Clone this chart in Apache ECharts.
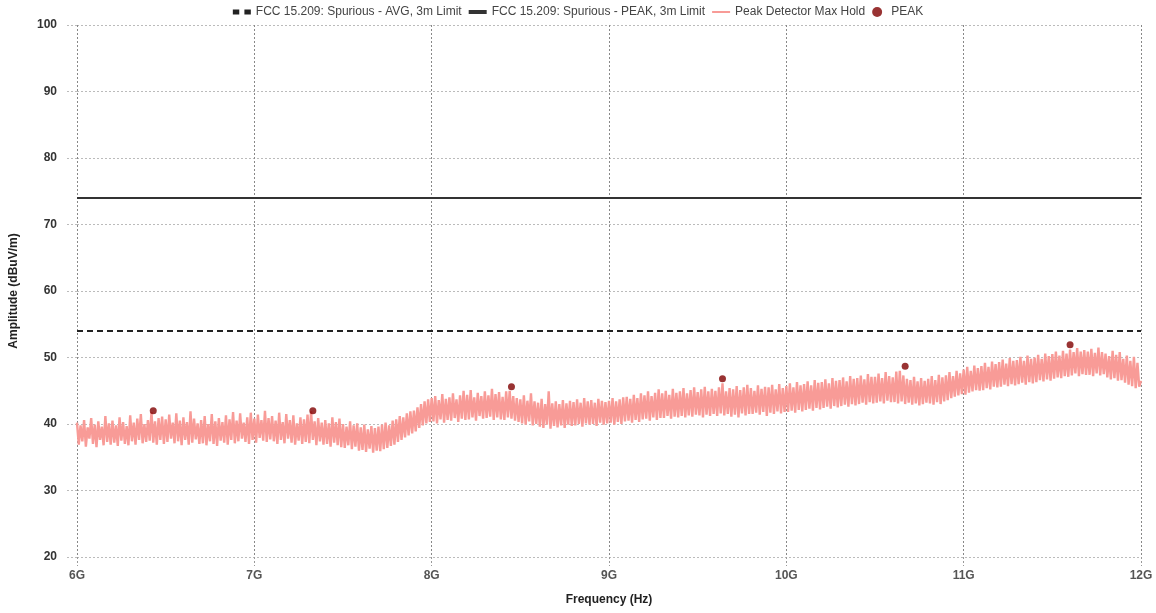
<!DOCTYPE html>
<html><head><meta charset="utf-8">
<script src="https://cdn.jsdelivr.net/npm/echarts@6/dist/echarts.min.js"></script>
<style>html,body{margin:0;padding:0;background:#fff}#c{width:1156px;height:613px}</style>
</head><body><div id="c"></div>
<script>
// Frequency axis in GHz
const X_TICKS = [6, 7, 8, 9, 10, 11, 12];
const Y_TICKS = [20, 30, 40, 50, 60, 70, 80, 90, 100];
const LIMIT_FREQS = [6, 12];
const AVG_LIMIT = [54, 54];
const PEAK_LIMIT = [74, 74];
// Peak detector max hold trace, sampled every 0.01 GHz from 6.00 GHz
const TRACE_START = 6.0;
const TRACE_STEP = 0.01;
const TRACE = [
40.2,36.9,39.8,37.4,40.6,36.6,39.5,37.8,40.9,37.0,
39.9,36.5,40.4,37.6,39.6,36.8,41.2,37.3,40.1,36.9,
40.5,37.2,39.8,36.7,41.0,37.5,40.3,37.0,39.7,36.8,
41.3,37.4,40.2,36.9,40.8,37.6,41.5,37.1,40.0,37.3,
40.6,37.5,41.8,37.2,40.4,36.9,40.9,37.6,41.1,37.0,
40.7,37.3,41.4,37.8,40.2,37.1,41.6,37.4,40.5,36.8,
41.0,37.6,40.3,36.9,41.9,37.2,40.8,37.7,40.1,37.0,
40.6,37.1,41.2,36.8,40.0,37.4,41.5,37.0,40.4,36.7,
40.9,37.5,40.3,37.2,41.3,36.9,40.7,37.6,41.8,37.1,
40.5,37.4,41.6,37.8,40.2,37.3,41.0,37.0,41.7,37.6,
40.8,37.2,41.4,37.9,40.6,37.5,42.0,37.3,40.9,37.7,
41.2,37.4,40.5,37.0,41.7,37.6,40.3,37.1,41.5,37.8,
40.6,37.2,41.3,36.9,40.1,37.5,41.0,37.0,40.7,37.3,
41.4,37.1,41.9,37.6,40.4,36.8,40.9,37.4,40.2,36.9,
40.6,37.0,40.1,36.6,41.0,37.2,40.3,36.8,40.8,36.5,
40.0,36.4,39.6,36.8,40.4,36.2,39.8,36.6,40.1,36.0,
39.5,36.1,39.9,35.8,39.2,36.3,39.7,35.7,39.4,36.0,
39.6,35.9,39.9,36.2,40.2,36.4,39.8,36.7,40.5,36.9,
40.7,37.3,41.2,37.6,41.0,38.0,41.6,38.3,41.9,38.6,
42.0,38.9,42.5,39.4,43.0,39.8,43.4,40.1,43.7,40.3,
43.9,40.4,44.2,40.1,43.6,40.7,44.5,40.2,43.8,40.6,
44.0,40.5,44.6,40.9,43.7,40.3,44.3,40.8,45.0,40.6,
44.4,40.7,45.1,41.0,44.0,40.5,44.7,41.2,44.2,40.8,
44.9,40.9,44.3,41.1,45.3,40.6,44.5,41.0,44.8,40.7,
44.1,40.6,44.9,41.0,45.0,40.8,44.2,40.5,43.9,40.3,
43.7,40.1,44.3,39.9,43.5,40.4,44.6,39.8,43.4,40.0,
43.2,39.6,43.8,39.4,43.0,39.9,44.9,39.3,43.1,39.7,
43.4,39.5,43.0,39.8,43.6,39.4,43.1,39.9,43.5,39.7,
43.3,39.8,43.7,40.0,43.2,39.6,43.9,40.1,43.4,39.9,
43.6,40.0,43.2,39.7,43.8,40.2,43.5,39.9,43.3,40.1,
43.5,40.2,43.9,39.9,43.4,40.3,43.7,40.0,44.0,40.4,
44.1,40.5,43.8,40.2,44.4,40.6,43.9,40.3,44.6,40.7,
44.3,40.8,44.9,40.5,44.2,41.0,44.7,40.6,45.2,40.9,
44.6,40.9,45.0,41.2,44.4,40.8,45.3,41.1,44.7,41.0,
44.9,41.2,45.4,41.0,44.6,41.3,45.1,41.1,45.5,41.4,
44.8,41.3,45.2,41.0,45.6,41.4,44.9,41.2,45.3,41.5,
45.0,41.2,45.5,41.6,46.1,41.3,44.9,41.5,45.4,41.1,
45.2,41.4,45.7,41.0,45.1,41.6,45.5,41.3,45.9,41.5,
45.4,41.5,45.0,41.7,45.8,41.4,45.3,41.8,45.6,41.2,
45.5,41.7,45.9,41.5,45.2,41.9,46.0,41.6,45.4,41.8,
45.7,41.8,46.1,42.0,45.5,41.7,46.3,42.1,45.8,41.9,
46.0,42.1,46.4,42.3,45.8,42.0,46.6,42.4,46.2,42.2,
46.3,42.4,46.7,42.6,46.1,42.3,46.9,42.7,46.5,42.5,
46.6,42.7,47.0,42.9,46.4,42.6,47.2,43.0,46.8,42.8,
46.9,43.0,47.3,43.2,46.7,42.9,47.5,43.3,47.1,43.1,
47.1,43.2,47.6,43.4,46.9,43.1,47.8,43.5,47.2,43.3,
47.0,43.3,47.9,43.1,48.0,43.4,47.3,43.0,46.8,43.2,
46.6,42.9,47.1,43.1,46.4,42.8,46.9,43.0,46.5,43.2,
46.8,43.1,47.2,42.9,46.6,43.3,47.4,43.0,47.0,43.4,
47.3,43.6,47.8,43.9,47.2,44.1,48.0,44.3,47.6,44.5,
48.2,44.4,48.6,44.7,48.0,44.9,48.8,45.1,48.4,45.0,
48.7,45.1,49.2,45.4,48.6,45.2,49.4,45.6,49.0,45.5,
49.3,45.6,49.7,45.9,49.1,45.7,49.9,46.0,49.5,45.8,
49.6,46.0,50.1,46.2,49.5,45.9,50.3,46.3,49.8,46.1,
50.0,46.3,50.4,46.6,49.8,46.4,50.6,46.7,50.2,46.5,
50.5,46.8,50.9,47.0,50.3,46.9,51.0,47.2,50.6,47.1,
51.2,47.3,50.8,47.6,51.4,47.2,50.9,47.5,51.1,47.4,
50.9,47.4,51.3,47.2,50.7,47.6,51.5,47.3,50.8,47.5,
50.6,47.0,50.2,46.7,51.0,46.9,50.4,46.5,50.8,46.6,
49.8,46.2,50.3,45.9,49.5,45.7,50.1,45.4,49.2,45.6,
46.5
];
const PEAK_FREQS = [6.43, 7.33, 8.45, 9.64, 10.67, 11.60];
const PEAK_VALUES = [42.0, 42.0, 45.6, 46.8, 48.7, 51.9];

const traceData = TRACE.map((v, i) => [+(TRACE_START + i * TRACE_STEP).toFixed(2), v]);
const chart = echarts.init(document.getElementById('c'), null, {renderer: 'canvas'});
const FONT = 'Liberation Sans, Arial, sans-serif';
const PINK = '#f89b97';
chart.setOption({
  animation: false,
  backgroundColor: '#fff',
  textStyle: {fontFamily: FONT},
  legend: {
    top: 1, left: 'center', itemWidth: 18, itemHeight: 10, itemGap: 7,
    textStyle: {fontSize: 12, color: '#444', fontFamily: FONT},
    data: [
      {name: 'FCC 15.209: Spurious - AVG, 3m Limit', icon: 'path://M0,0h5v4h-5zM9,0h5v4h-5z'},
      {name: 'FCC 15.209: Spurious - PEAK, 3m Limit', icon: 'path://M0,0h18v4h-18z'},
      {name: 'Peak Detector Max Hold', icon: 'path://M0,0h18v2h-18z'},
      {name: 'PEAK', icon: 'circle'}
    ]
  },
  grid: {left: 72, right: 15, top: 25, bottom: 56},
  xAxis: {
    type: 'value', min: 6, max: 12, interval: 1,
    name: 'Frequency (Hz)', nameLocation: 'middle', nameGap: 37,
    nameTextStyle: {fontWeight: 'bold', fontSize: 12, color: '#222'},
    axisLine: {show: false},
    axisTick: {show: true, length: 9, lineStyle: {type: [2, 2], color: '#999'}},
    axisLabel: {formatter: v => v + 'G', fontWeight: 'bold', fontSize: 12, color: '#555', margin: 13},
    splitLine: {show: true, lineStyle: {type: [2, 2], color: '#888', width: 1}}
  },
  yAxis: {
    type: 'value', min: 20, max: 100, interval: 10,
    name: 'Amplitude (dBuV/m)', nameLocation: 'middle', nameGap: 57, nameRotate: 90,
    nameTextStyle: {fontWeight: 'bold', fontSize: 12, color: '#222'},
    axisLine: {show: false},
    axisTick: {show: true, length: 10, lineStyle: {type: [2, 2], color: '#bbb'}},
    axisLabel: {fontWeight: 'bold', fontSize: 12, color: '#333', margin: 20},
    splitLine: {show: true, lineStyle: {type: [2, 2], color: '#bbb', width: 1}}
  },
  series: [
    {
      name: 'FCC 15.209: Spurious - AVG, 3m Limit', type: 'line', symbol: 'none', z: 4,
      lineStyle: {color: '#222', width: 2, type: [6, 4]}, itemStyle: {color: '#222'},
      data: LIMIT_FREQS.map((f, i) => [f, AVG_LIMIT[i]])
    },
    {
      name: 'FCC 15.209: Spurious - PEAK, 3m Limit', type: 'line', symbol: 'none', z: 4,
      lineStyle: {color: '#333', width: 2}, itemStyle: {color: '#333'},
      data: LIMIT_FREQS.map((f, i) => [f, PEAK_LIMIT[i]])
    },
    {
      name: 'Peak Detector Max Hold', type: 'line', symbol: 'none', z: 3,
      lineStyle: {color: PINK, width: 2.4}, itemStyle: {color: PINK},
      data: traceData
    },
    {
      name: 'PEAK', type: 'scatter', symbolSize: 7, z: 5,
      itemStyle: {color: '#800000'},
      data: PEAK_FREQS.map((f, i) => [f, PEAK_VALUES[i]])
    }
  ]
});
</script></body></html>
